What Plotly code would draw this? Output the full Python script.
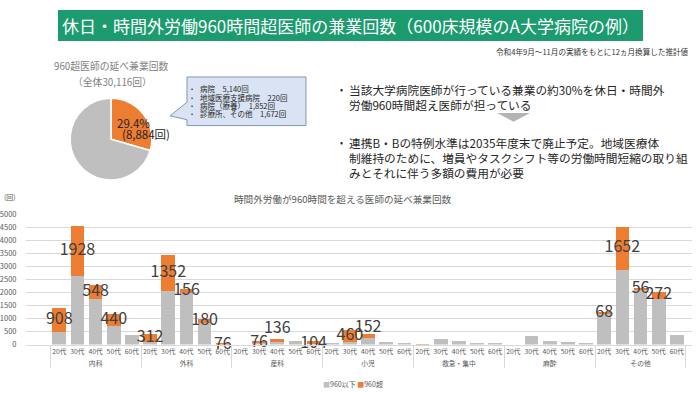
import plotly.graph_objects as go

# ---------------- data ----------------
groups = ["内科", "外科", "産科", "小児", "救急・集中", "麻酔", "その他"]
ages = ["20代", "30代", "40代", "50代", "60代"]

under_960 = {
    "内科": [500, 2625, 1750, 720, 370],
    "外科": [100, 2070, 1990, 820, 0],
    "産科": [0, 65, 80, 150, 30],
    "小児": [50, 115, 260, 112, 50],
    "救急・集中": [0, 212, 150, 60, 10],
    "麻酔": [0, 310, 125, 90, 60],
    "その他": [1180, 2875, 2090, 1750, 375],
}
over_960 = {
    "内科": [908, 1928, 548, 440, 0],
    "外科": [312, 1352, 156, 180, 76],
    "産科": [0, 76, 136, 0, 104],
    "小児": [0, 460, 152, 0, 0],
    "救急・集中": [8, 0, 0, 0, 0],
    "麻酔": [0, 0, 0, 0, 0],
    "その他": [68, 1652, 56, 272, 0],
}
series_names = ["960以下", "960超"]

pie_labels = ["960超", "960以下"]
pie_values = [8884, 21232]
pie_total = 30116
pie_share_text = "29.4%"

callout_lines = ["病院　5,140回", "地域医療支援病院　220回", "病院（療養）　1,852回", "診療所、その他　1,672回"]
y_ticks = list(range(0, 5001, 500))

# label nudges (value units) where the original moved small labels
label_nudge = {("外科", "60代"): -38, ("産科", "30代"): -40, ("産科", "40代"): 450,
               ("産科", "60代"): -55, ("小児", "40代"): 290, ("救急・集中", "20代"): -60}

# ---------------- styling ----------------
FONT = "Noto Sans CJK JP"
GRAY = "#bfbfbf"
ORANGE = "#ed7d31"
GREEN = "#1b9b6e"
W, H = 700, 393


def px(x):
    return x / W


def py(y):
    return 1 - y / H


xg, xa, yu, yo = [], [], [], []
for g in groups:
    for i, a in enumerate(ages):
        xg.append(g)
        xa.append(a)
        yu.append(under_960[g][i])
        yo.append(over_960[g][i])

fig = go.Figure()
fig.add_trace(go.Bar(x=[xg, xa], y=yu, name=series_names[0], marker_color=GRAY,
                     marker_line_width=0, showlegend=False))
fig.add_trace(go.Bar(x=[xg, xa], y=yo, name=series_names[1], marker_color=ORANGE,
                     marker_line_width=0, showlegend=False))

lx_g, lx_a, ly, lt = [], [], [], []
for g, a, u, o in zip(xg, xa, yu, yo):
    if o > 0:
        lx_g.append(g)
        lx_a.append(a)
        ly.append(u + o / 2 + label_nudge.get((g, a), 0))
        lt.append(str(o))
fig.add_trace(go.Scatter(x=[lx_g, lx_a], y=ly, text=lt, mode="text",
                         textfont=dict(size=16, color="#404040", family=FONT),
                         showlegend=False, cliponaxis=False, hoverinfo="skip"))

fig.add_trace(go.Pie(labels=pie_labels, values=pie_values, sort=False, direction="clockwise",
                     rotation=0, marker=dict(colors=[ORANGE, GRAY], line=dict(color="white", width=1.5)),
                     textinfo="none", showlegend=False, hoverinfo="skip",
                     domain=dict(x=[px(69), px(153)], y=[py(179), py(95)])))

fig.update_layout(
    width=W, height=H, margin=dict(l=0, r=0, t=0, b=0),
    paper_bgcolor="white", plot_bgcolor="white",
    barmode="stack", bargap=0.25,
    font=dict(family=FONT, color="#595959"),
    xaxis=dict(domain=[px(26), px(692)], type="multicategory", tickfont=dict(size=6.8, color="#595959"),
               showdividers=True, dividercolor="#d9d9d9", dividerwidth=1,
               showline=True, linecolor="#d9d9d9", linewidth=1, showgrid=False, tickangle=0),
    yaxis=dict(domain=[py(348.3), py(214.3)], range=[0, 5000], tickvals=y_ticks,
               tickfont=dict(size=7.5, color="#595959"), gridcolor="#d9d9d9", gridwidth=1.2,
               zeroline=False, ticks="outside", ticklen=7, tickcolor="rgba(0,0,0,0)"),
)

shapes = []
# title bar
shapes.append(dict(type="rect", xref="paper", yref="paper", x0=px(58), x1=px(643), y0=py(36), y1=py(4),
                   fillcolor=GREEN, line=dict(width=0), layer="below"))
# callout box with pointer
pts = [(187, 73), (306, 73), (306, 123), (187, 123), (187, 117), (170, 113), (187, 99)]
path = "M " + " L ".join(f"{px(x):.5f},{py(y):.5f}" for x, y in pts) + " Z"
shapes.append(dict(type="path", xref="paper", yref="paper", path=path,
                   fillcolor="#dae3f3", line=dict(color="#8497b0", width=1)))
# down triangle
tri = [(497, 110), (530, 110), (513.5, 119)]
path = "M " + " L ".join(f"{px(x):.5f},{py(y):.5f}" for x, y in tri) + " Z"
shapes.append(dict(type="path", xref="paper", yref="paper", path=path,
                   fillcolor="#b4b4b4", line=dict(width=0)))
fig.update_layout(shapes=shapes)

ann = []


def text(x, y, s, size, color="#262626", anchor="left"):
    ann.append(dict(x=px(x), y=py(y), xref="paper", yref="paper", text=s, showarrow=False,
                    xanchor=anchor, yanchor="middle", borderpad=0,
                    font=dict(size=size, color=color, family=FONT)))


text(350.5, 20, "休日・時間外労働960時間超医師の兼業回数（600床規模のA大学病院の例）", 17, "white", "center")
text(690, 47, "令和4年9月～11月の実績をもとに12ヵ月換算した推計値", 7.6, "#333333", "right")
text(111, 62, "960超医師の延べ兼業回数", 9.8, "#7f7f7f", "center")
text(112, 78, f"（全体{pie_total:,}回）", 9.8, "#7f7f7f", "center")
text(133, 120, pie_share_text, 11.5, "#262626", "center")
text(146, 132, f"({pie_values[0]:,}回)", 11.5, "#262626", "center")
for i, line in enumerate(callout_lines):
    yy = 85 + i * 8.7
    text(190, yy, "•", 6, "#262626")
    text(199, yy, line, 7.5, "#262626")

right_lines = [
    (85.5, "当該大学病院医師が行っている兼業の約30%を休日・時間外", True),
    (101.5, "労働960時間超え医師が担っている", False),
    (140, "連携B・Bの特例水準は2035年度末で廃止予定。地域医療体", True),
    (155.5, "制維持のために、増員やタスクシフト等の労働時間短縮の取り組", False),
    (171, "みとそれに伴う多額の費用が必要", False),
]
for yy, s, bullet in right_lines:
    if bullet:
        text(339, yy, "•", 9, "#262626")
    text(348, yy, s, 11.7, "#262626")

text(342.5, 199, "時間外労働が960時間を超える医師の延べ兼業回数", 9.6, "#595959", "center")
text(3, 197, "(回)", 7, "#595959")
legend_txt = (f"<span style='color:{GRAY}'>■</span>{series_names[0]} "
              f"<span style='color:{ORANGE}'>■</span>{series_names[1]}")
text(353, 389, legend_txt, 7, "#595959", "center")
fig.update_layout(annotations=ann)

fig.write_html("out.html", config={"displayModeBar": False},
               post_script="document.body.style.margin='0';")
